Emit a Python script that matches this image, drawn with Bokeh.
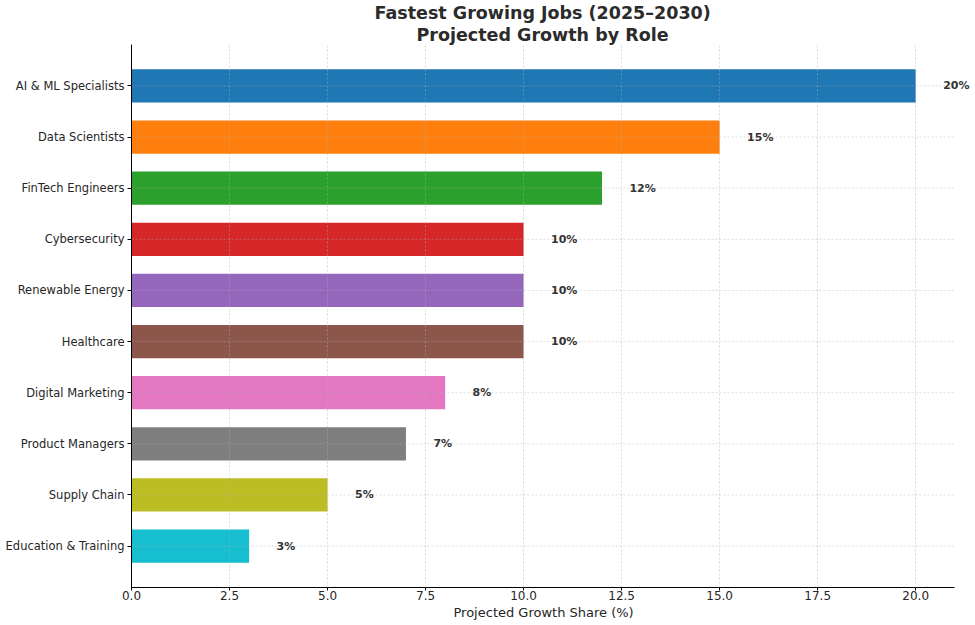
from bokeh.plotting import figure
from bokeh.models import Range1d, FixedTicker, PrintfTickFormatter, ColumnDataSource, LabelSet, Title
from bokeh.embed import file_html
from bokeh.resources import INLINE
from bokeh.core.properties import value

roles = ["AI & ML Specialists", "Data Scientists", "FinTech Engineers", "Cybersecurity",
         "Renewable Energy", "Healthcare", "Digital Marketing", "Product Managers",
         "Supply Chain", "Education & Training"]
growth = [20, 15, 12, 10, 10, 10, 8, 7, 5, 3]
colors = ["#1f77b4", "#ff7f0e", "#2ca02c", "#d62728", "#9467bd",
          "#8c564b", "#e377c2", "#7f7f7f", "#bcbd22", "#17becf"]
x_ticks = [0, 2.5, 5, 7.5, 10, 12.5, 15, 17.5, 20]
x_max = 21
title_lines = ["Fastest Growing Jobs (2025\u20132030)", "Projected Growth by Role"]
x_label = "Projected Growth Share (%)"

n = len(roles)
ypos = [n - 1 - i for i in range(n)]
labels = [f"{v}%" for v in growth]
label_x = [v + 0.7 for v in growth]

src = ColumnDataSource(dict(y=ypos, right=growth, color=colors, lx=label_x, lab=labels,
                            g0=[0] * n, g1=[x_max] * n))

FONT = "DejaVu Sans"
TXT = "#262626"
GRID = dict(line_color="#b0b0b0", line_alpha=0.45, line_dash="2 2", line_width=1)

p = figure(width=975, height=624, output_backend="svg", toolbar_location=None,
           x_range=Range1d(0, 21.5), y_range=Range1d(-0.81, n - 1 + 0.81),
           min_border_left=131, min_border_right=1, min_border_top=5, min_border_bottom=37)

p.hbar(y="y", right="right", left=0, height=0.65, color="color", source=src, line_color=None)
# horizontal grid lines (drawn above bars, ending at the axis end)
p.segment(x0="g0", x1="g1", y0="y", y1="y", source=src, **GRID)
p.add_layout(LabelSet(x="lx", y="y", text="lab", source=src, text_font=value(FONT),
                      text_font_style="bold", text_font_size="11px", text_color="#333333",
                      text_baseline="middle", text_align="left"))

# titles, centred over the visible axis span (0..x_max)
for line, off in zip(reversed(title_lines), [285, 243]):
    p.add_layout(Title(text=line, align="left", offset=off, text_font=FONT,
                       text_font_size="17.5px", text_font_style="bold",
                       text_color="#2b2b2b", standoff=0), "above")

p.add_layout(Title(text=x_label, align="left", offset=322, text_font=FONT,
                   text_font_size="13px", text_font_style="normal",
                   text_color=TXT, standoff=0), "below")

p.outline_line_color = None

p.xaxis.ticker = FixedTicker(ticks=x_ticks)
p.xaxis.formatter = PrintfTickFormatter(format="%.1f")
p.xaxis.bounds = (0, x_max)
p.xaxis.major_label_standoff = 0

p.yaxis.ticker = FixedTicker(ticks=ypos)
p.yaxis.major_label_overrides = {y: r for y, r in zip(ypos, roles)}

for ax in (p.xaxis, p.yaxis):
    ax.major_label_text_font = FONT
    ax.major_label_text_font_size = "12px"
    ax.major_label_text_color = TXT
    ax.axis_line_color = "#000000"
    ax.major_tick_line_color = "#000000"
    ax.major_tick_out = 4
    ax.major_tick_in = 0
    ax.minor_tick_line_color = None
p.xaxis.major_tick_out = 3
p.yaxis.major_label_text_font_size = "11.5px"
p.yaxis.major_label_standoff = 3

p.ygrid.grid_line_color = None
p.xgrid.ticker = FixedTicker(ticks=x_ticks)
p.xgrid.grid_line_color = GRID["line_color"]
p.xgrid.grid_line_alpha = GRID["line_alpha"]
p.xgrid.grid_line_dash = GRID["line_dash"]
p.xgrid.level = "annotation"

open("out.html", "w").write(file_html(p, INLINE))
